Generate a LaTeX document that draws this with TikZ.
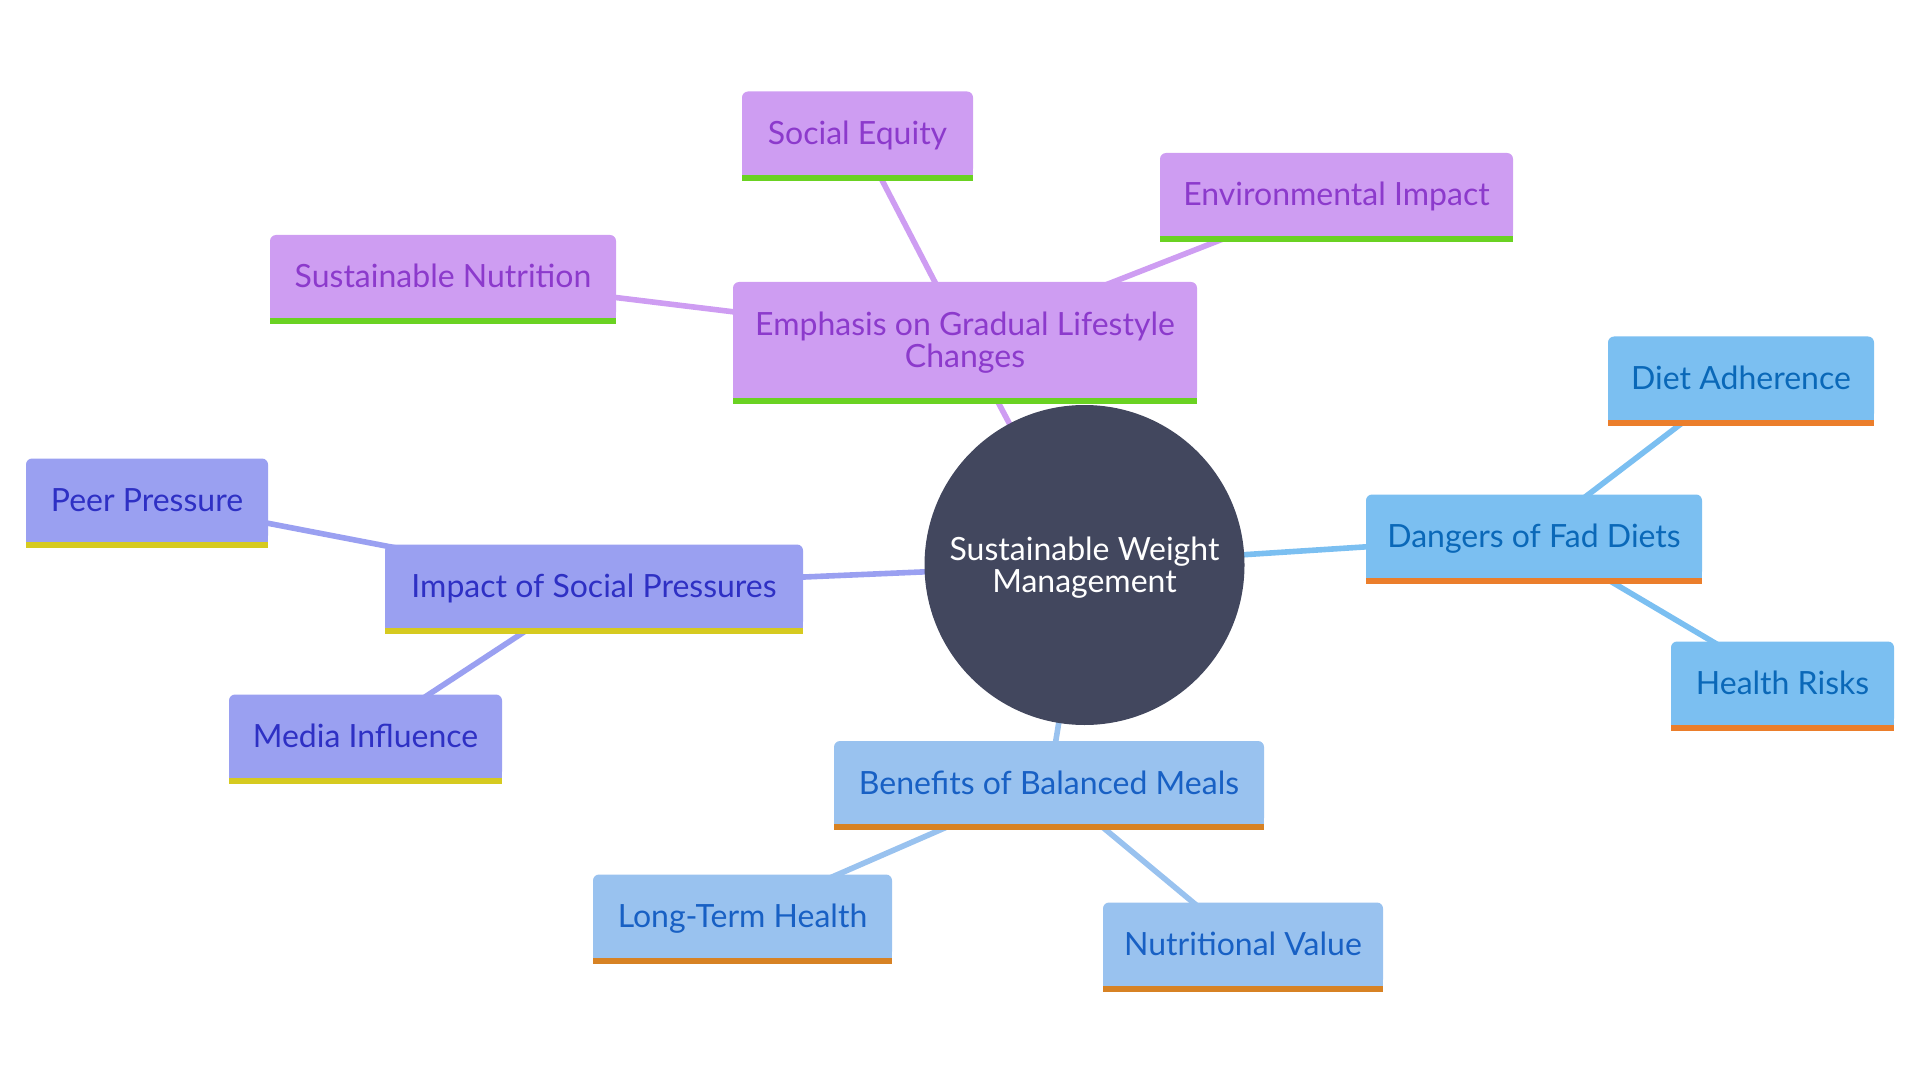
\documentclass[tikz,border=0pt]{standalone}
\usepackage{fontspec}
\setmainfont{Lato}
\pgfdeclarelayer{background}
\pgfsetlayers{background,main}
\definecolor{cfill}{RGB}{66,71,94}
\definecolor{pfill}{RGB}{206,157,242}
\definecolor{ptext}{RGB}{140,58,204}
\definecolor{pbar}{RGB}{106,210,34}
\definecolor{dfill}{RGB}{123,191,241}
\definecolor{dtext}{RGB}{10,104,184}
\definecolor{dbar}{RGB}{235,126,43}
\definecolor{bfill}{RGB}{153,194,239}
\definecolor{btext}{RGB}{24,96,196}
\definecolor{bbar}{RGB}{215,130,36}
\definecolor{ifill}{RGB}{154,160,241}
\definecolor{itext}{RGB}{46,48,196}
\definecolor{ibar}{RGB}{214,202,32}
\tikzset{
  mm/.style={rounded corners=3pt, inner sep=0pt, minimum height=41.5pt,
    text height=11.5pt, text depth=0pt, align=center,
    font=\fontsize{16}{16.4}\selectfont},
  purp/.style={mm, fill=pfill, text=ptext},
  dang/.style={mm, fill=dfill, text=dtext},
  bene/.style={mm, fill=bfill, text=btext},
  soci/.style={mm, fill=ifill, text=itext},
  link/.style={line width=2.8pt},
}
\begin{document}
\begin{tikzpicture}[x=0.5pt,y=-0.5pt]
\useasboundingbox (0,0) rectangle (1920,1080);
% root
\node[circle, fill=cfill, minimum size=160pt, inner sep=0pt, text=white,
  align=center, text height=27.9pt, text depth=0pt,
  font=\fontsize{16}{16.4}\selectfont] (root) at (1084.5,565) {Sustainable Weight\\Management};
% purple branch
\node[purp, minimum width=232pt, minimum height=58pt, text height=27.9pt, text depth=0pt] (em) at (965,340) {Emphasis on Gradual Lifestyle\\Changes};
\node[purp, minimum width=115.5pt] (se) at (857.5,133) {Social Equity};
\node[purp, minimum width=176.5pt] (ei) at (1336.5,194.5) {Environmental Impact};
\node[purp, minimum width=173pt] (sn) at (443,276.5) {Sustainable Nutrition};
% dangers branch
\node[dang, minimum width=168pt] (dg) at (1534,536) {Dangers of Fad Diets};
\node[dang, minimum width=133pt] (da) at (1741,378) {Diet Adherence};
\node[dang, minimum width=111.5pt] (hr) at (1782.5,683) {Health Risks};
% benefits branch
\node[bene, minimum width=215pt] (be) at (1049,782.5) {Benefits of Balanced Meals};
\node[bene, minimum width=149.5pt] (lt) at (742.5,916) {Long-Term Health};
\node[bene, minimum width=140pt] (nv) at (1243,944) {Nutritional Value};
% social branch
\node[soci, minimum width=209pt] (im) at (594,586) {Impact of Social Pressures};
\node[soci, minimum width=121pt] (pp) at (147,500) {Peer Pressure};
\node[soci, minimum width=136.5pt] (mi) at (365.5,736) {Media Influence};
% bottom bars
\foreach \n/\f/\b in {em/pfill/pbar, se/pfill/pbar, ei/pfill/pbar, sn/pfill/pbar,
  dg/dfill/dbar, da/dfill/dbar, hr/dfill/dbar,
  be/bfill/bbar, lt/bfill/bbar, nv/bfill/bbar,
  im/ifill/ibar, pp/ifill/ibar, mi/ifill/ibar} {
  \fill[\f] ([yshift=3.5pt]\n.south west) rectangle (\n.south east);
  \fill[\b] (\n.south west) rectangle ([yshift=-3pt]\n.south east);
}
% connectors
\begin{pgfonlayer}{background}
\draw[link, pfill] (root.center) -- (em.center);
\draw[link, pfill] (em.center) -- (se.center);
\draw[link, pfill] (em.center) -- (ei.center);
\draw[link, pfill] (em.center) -- (sn.center);
\draw[link, dfill] (root.center) -- (dg.center);
\draw[link, dfill] (dg.center) -- (da.center);
\draw[link, dfill] (dg.center) -- (hr.center);
\draw[link, bfill] (root.center) -- (be.center);
\draw[link, bfill] (be.center) -- (lt.center);
\draw[link, bfill] (be.center) -- (nv.center);
\draw[link, ifill] (root.center) -- (im.center);
\draw[link, ifill] (im.center) -- (pp.center);
\draw[link, ifill] (im.center) -- (mi.center);
\end{pgfonlayer}
\end{tikzpicture}
\end{document}
